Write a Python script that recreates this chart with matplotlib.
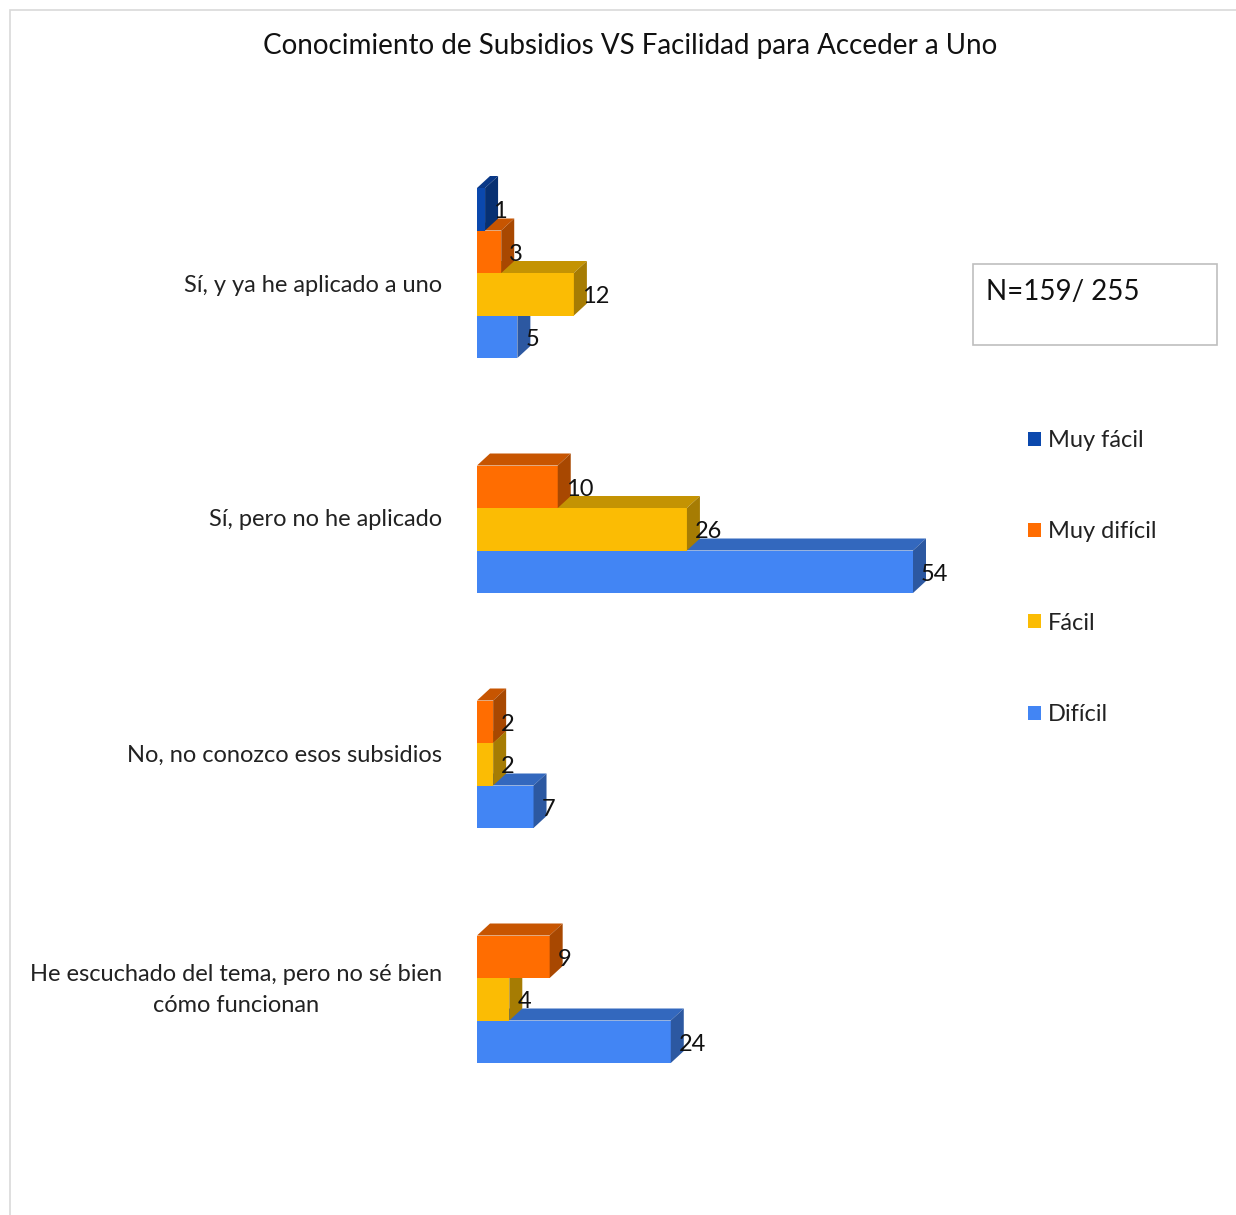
import numpy as np
import matplotlib
matplotlib.use('Agg')
import matplotlib.pyplot as plt
from matplotlib.patches import Polygon, Rectangle
from matplotlib.colors import to_rgb

plt.rcParams['font.family'] = ['Lato', 'DejaVu Sans']

# datos
categorias = ['Sí, y ya he aplicado a uno', 'Sí, pero no he aplicado',
              'No, no conozco esos subsidios',
              'He escuchado del tema, pero no sé bien\ncómo funcionan']
series = ['Muy fácil', 'Muy difícil', 'Fácil', 'Difícil']
muy_facil = [1, 0, 0, 0]
muy_dificil = [3, 10, 2, 9]
facil = [12, 26, 2, 4]
dificil = [5, 54, 7, 24]
valores = [muy_facil, muy_dificil, facil, dificil]
colores = ['#0B48AD', '#FF6D01', '#FBBC04', '#4285F4']

W, H = 1236, 1215
fig = plt.figure(figsize=(W / 100, H / 100), dpi=100)

# marco del grafico
fig.patches.append(Rectangle((10 / W, -0.01), 1.0, 1 - 10 / H + 0.01,
                             transform=fig.transFigure, fill=False,
                             edgecolor='#D9D9D9', lw=1.2))

ax_l, ax_r, ax_t, ax_b = 477, 913, 150, 1100
ax = fig.add_axes([ax_l / W, 1 - ax_b / H, (ax_r - ax_l) / W, (ax_b - ax_t) / H])
xmax = 54
ax.set_xlim(0, xmax)
c0, paso = 273, 235
ax.set_ylim((ax_b - c0) / paso, (ax_t - c0) / paso)
ax.axis('off')

h = 42.5 / paso
px_x = xmax / (ax_r - ax_l)
dx = 13 * px_x
dy = -12 / paso
y = np.arange(len(categorias))


def oscuro(c, f):
    r, g, b = to_rgb(c)
    return (r * f, g * f, b * f)


for k, (nombre, vals, col) in enumerate(zip(series, valores, colores)):
    yk = y + (k - 1.5) * h
    z = 10 - 2 * k
    ax.barh(yk, vals, height=h, color=col, label=nombre, zorder=z)
    for yc, v in zip(yk, vals):
        if v == 0:
            continue
        yt, yb = yc - h / 2, yc + h / 2
        tapa = Polygon([(0, yt), (v, yt), (v + dx, yt + dy), (dx, yt + dy)],
                       closed=True, color=oscuro(col, 0.78), lw=0, zorder=z,
                       clip_on=False)
        lado = Polygon([(v, yt), (v + dx, yt + dy), (v + dx, yb + dy), (v, yb)],
                       closed=True, color=oscuro(col, 0.66), lw=0, zorder=z,
                       clip_on=False)
        ax.add_patch(tapa)
        ax.add_patch(lado)
        ax.text(v + 8 * px_x, yc + 0.01, str(v), fontsize=17, va='center',
                ha='left', zorder=20, color='#111111')

for yc, cat in zip(y, categorias):
    ax.text(-35 * px_x, yc + 12 / paso, cat, fontsize=17, ha='right', va='center',
            color='#222222', multialignment='center', linespacing=1.6)

fig.text(630 / W, 1 - 46 / H, 'Conocimiento de Subsidios VS Facilidad para Acceder a Uno',
         fontsize=20, ha='center', va='center', color='#111111')

# caja N
fig.patches.append(Rectangle((973 / W, 1 - 345 / H), 244 / W, 81 / H,
                             transform=fig.transFigure, fill=False,
                             edgecolor='#BFBFBF', lw=1.2))
fig.text(986 / W, 1 - 292 / H, 'N=159/ 255', fontsize=20, ha='left', va='center',
         color='#111111')

leg = ax.legend(loc='upper left', bbox_to_anchor=(1028 / W, 1 - 430 / H),
                bbox_transform=fig.transFigure, frameon=False, fontsize=17,
                handlelength=0.55, handleheight=0.55, handletextpad=0.3,
                labelspacing=2.98, borderpad=0, borderaxespad=0)
for t in leg.get_texts():
    t.set_color('#222222')

fig.savefig('out.png', dpi=100)
